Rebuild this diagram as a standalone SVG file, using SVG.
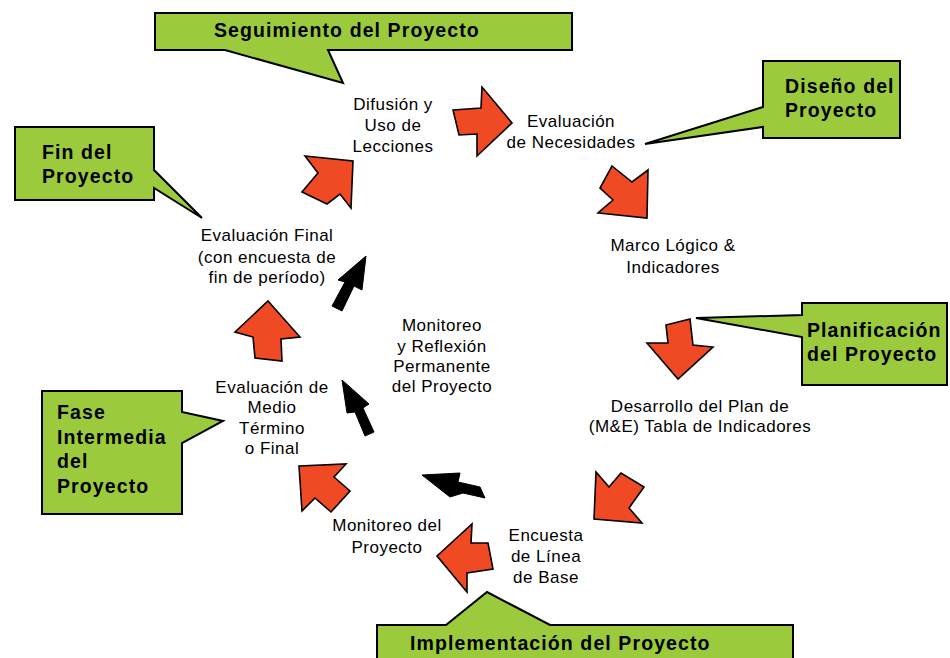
<svg xmlns="http://www.w3.org/2000/svg" width="950" height="658" viewBox="0 0 950 658">
<style>
.call{fill:#9BCB3C;stroke:#000;stroke-width:2;stroke-linejoin:miter}
.ct{font-family:"Liberation Sans",Arial,sans-serif;font-weight:bold;font-size:19.5px;letter-spacing:1.1px;fill:#000}
.nt{font-family:"Liberation Sans",Arial,sans-serif;font-size:17px;letter-spacing:0.5px;fill:#000;text-anchor:middle}
.ra{fill:#F04A24;stroke:#000;stroke-width:1.6;stroke-linejoin:miter}
.ba{fill:#000;stroke:#000;stroke-width:1}
</style>
<rect width="950" height="658" fill="#fff"/>
<g id="callouts">
<g id="c-seguimiento">
<path class="call" d="M155,13 H572 V50 H328 L343,83 L225,50 H155 Z"/>
<text class="ct" x="214" y="37">Seguimiento del Proyecto</text>
</g>
<g id="c-diseno">
<path class="call" d="M763,61 H900 V138 H763 V127 L645,144 L763,107 Z"/>
<text class="ct" x="785" y="93">Diseño del</text>
<text class="ct" x="785" y="117">Proyecto</text>
</g>
<g id="c-fin">
<path class="call" d="M15,127 H154 V170 L202,218 L154,188 V200 H15 Z"/>
<text class="ct" x="42" y="159">Fin del</text>
<text class="ct" x="42" y="183">Proyecto</text>
</g>
<g id="c-planificacion">
<path class="call" d="M802,303 H947 V385 H802 V337 L696,318 L802,315 Z"/>
<text class="ct" x="807" y="337">Planificación</text>
<text class="ct" x="807" y="361">del Proyecto</text>
</g>
<g id="c-intermedia">
<path class="call" d="M42,391 H182 V412 L223,421 L182,443 V514 H42 Z"/>
<text class="ct" x="57" y="419">Fase</text>
<text class="ct" x="57" y="444">Intermedia</text>
<text class="ct" x="57" y="468">del</text>
<text class="ct" x="57" y="493">Proyecto</text>
</g>
<g id="c-implementacion">
<path class="call" d="M377,625 H446 L487,592 L550,625 H793 V660 H377 Z"/>
<text class="ct" x="410" y="650">Implementación del Proyecto</text>
</g>
</g>
<g id="n-difusion">
<text class="nt" x="393" y="110">Difusión y</text>
<text class="nt" x="393" y="131">Uso de</text>
<text class="nt" x="393" y="152">Lecciones</text>
</g>
<g id="n-necesidades">
<text class="nt" x="571" y="127">Evaluación</text>
<text class="nt" x="571" y="148">de Necesidades</text>
</g>
<g id="n-marco">
<text class="nt" x="673" y="251">Marco Lógico &amp;</text>
<text class="nt" x="673" y="273">Indicadores</text>
</g>
<g id="n-plan">
<text class="nt" x="700" y="412">Desarrollo del Plan de</text>
<text class="nt" x="700" y="432">(M&amp;E) Tabla de Indicadores</text>
</g>
<g id="n-encuesta">
<text class="nt" x="546" y="541">Encuesta</text>
<text class="nt" x="546" y="562">de Línea</text>
<text class="nt" x="546" y="583">de Base</text>
</g>
<g id="n-monitoreo">
<text class="nt" x="387" y="531">Monitoreo del</text>
<text class="nt" x="387" y="553">Proyecto</text>
</g>
<g id="n-medio">
<text class="nt" x="272" y="393">Evaluación de</text>
<text class="nt" x="272" y="413">Medio</text>
<text class="nt" x="272" y="434">Término</text>
<text class="nt" x="272" y="454">o Final</text>
</g>
<g id="n-final">
<text class="nt" x="267" y="241">Evaluación Final</text>
<text class="nt" x="267" y="263">(con encuesta de</text>
<text class="nt" x="267" y="283">fin de período)</text>
</g>
<g id="n-reflexion">
<text class="nt" x="442" y="331">Monitoreo</text>
<text class="nt" x="442" y="352">y Reflexión</text>
<text class="nt" x="442" y="372">Permanente</text>
<text class="nt" x="442" y="392">del Proyecto</text>
</g>
<g id="connectors">
<polygon class="ra" points="305,156 353,161 351,208 340,194 327,204 302,192 318,173"/>
<polygon class="ra" points="453,110 481,108 482,87 512,123 477,156 477,134 459,135"/>
<polygon class="ra" points="612,166 632,182 648,170 647,218 598,213 613,200 600,188"/>
<polygon class="ra" points="666,325 690,319 693,345 713,347 678,379 647,343 668,343"/>
<polygon class="ra" points="596,472 609,487 621,473 644,487 629,508 642,523 594,519"/>
<polygon class="ra" points="472,524 471,543 488,543 493,569 467,573 467,592 437,556"/>
<polygon class="ra" points="299,466 346,464 334,477 350,491 331,512 315,498 302,511"/>
<polygon class="ra" points="268,301 300,337 281,339 282,361 255,358 253,337 235,332"/>
<polygon class="ba" points="366,256 362,290 354,286 342,311 332,306 345,282 338,280"/>
<polygon class="ba" points="342,380 369,404 363,408 374,432 365,436 355,412 347,413"/>
<polygon class="ba" points="422,475 460,473 458,482 480,487 485,498 463,493 450,497"/>
</g>
</svg>
